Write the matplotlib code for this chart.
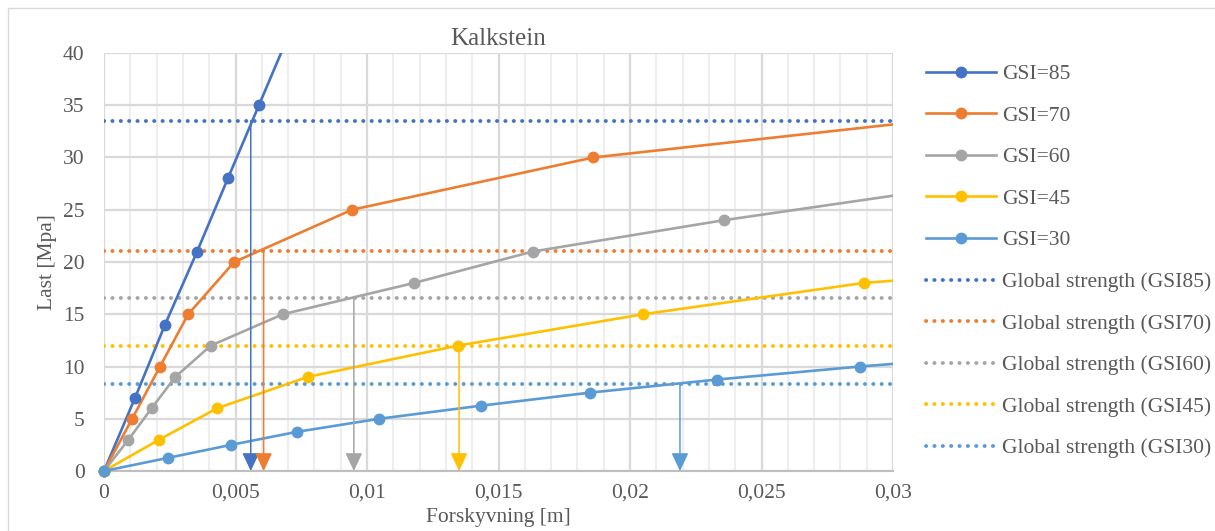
import matplotlib.pyplot as plt
from matplotlib.patches import Rectangle
from matplotlib.ticker import MultipleLocator, FuncFormatter
import numpy as np

plt.rcParams['font.family'] = ['Liberation Serif', 'DejaVu Serif']

# --- data (displacement [m], load [MPa]) ---
gsi85_x = [0, 0.00118, 0.00232, 0.00354, 0.00471, 0.00589, 0.00707]
gsi85_y = [0, 7, 14, 21, 28, 35, 42]

gsi70_x = [0, 0.00107, 0.00213, 0.0032, 0.00495, 0.00943, 0.0186, 0.0366]
gsi70_y = [0, 5, 10, 15, 20, 25, 30, 35]

gsi60_x = [0, 0.00093, 0.00181, 0.00271, 0.00406, 0.0068, 0.0118, 0.0163, 0.02357, 0.0318]
gsi60_y = [0, 3, 6, 9, 12, 15, 18, 21, 24, 27]

gsi45_x = [0, 0.0021, 0.0043, 0.00774, 0.01346, 0.0205, 0.0289, 0.0447]
gsi45_y = [0, 3, 6, 9, 12, 15, 18, 21]

gsi30_x = [0, 0.00242, 0.00483, 0.00734, 0.01047, 0.01433, 0.01848, 0.0233, 0.02875, 0.035]
gsi30_y = [0, 1.25, 2.5, 3.75, 5, 6.25, 7.5, 8.75, 10, 11.25]

global_strength = [33.52, 21.02, 16.53, 11.96, 8.36]
# displacement where each curve reaches its global strength (arrows)
failure_disp = [0.00558, 0.00607, 0.0095, 0.0135, 0.0219]

labels = ['GSI=85', 'GSI=70', 'GSI=60', 'GSI=45', 'GSI=30']
gs_labels = ['Global strength (GSI85)', 'Global strength (GSI70)', 'Global strength (GSI60)',
             'Global strength (GSI45)', 'Global strength (GSI30)']
colors = ['#4472C4', '#ED7D31', '#A5A5A5', '#FFC000', '#5B9BD5']

series = [(gsi85_x, gsi85_y), (gsi70_x, gsi70_y), (gsi60_x, gsi60_y),
          (gsi45_x, gsi45_y), (gsi30_x, gsi30_y)]

txt = '#595959'
fs = 15.5

fig = plt.figure(figsize=(12.15, 5.31), dpi=100)
ax = fig.add_axes([104 / 1215, 60 / 531, (893 - 104) / 1215, (471 - 53) / 531])

xmax, ymax = 0.03, 40
ax.set_xlim(0, xmax)
ax.set_ylim(0, ymax)

handles = []
for (x, y), c, lab in zip(series, colors, labels):
    x = np.array(x)
    y = np.array(y)
    h, = ax.plot(x, y, color=c, lw=1.9, marker='o', ms=7.5, label=lab, zorder=4)
    h.set_markevery([])
    # markers inside the plot area, not clipped at the edges
    m = (x <= xmax) & (y <= ymax)
    ax.plot(x[m], y[m], ls='none', marker='o', ms=7.5, color=c, clip_on=False, zorder=5)
    handles.append(h)

gs_handles = []
for s, c, lab in zip(global_strength, colors, gs_labels):
    h = ax.axhline(s, color=c, lw=2.8, ls=(0, (0.05, 2.1)), dash_capstyle='round',
                   label=lab, zorder=3)
    gs_handles.append(h)

# arrows from the global strength level down to the x-axis
for xf, s, c in zip(failure_disp, global_strength, colors):
    ax.annotate('', xy=(xf, 0), xytext=(xf, s),
                arrowprops=dict(arrowstyle='-|>,head_length=1.1,head_width=0.52',
                                color=c, lw=1.1, shrinkA=0, shrinkB=0),
                zorder=6, annotation_clip=False)

# grid
ax.xaxis.set_major_locator(MultipleLocator(0.005))
ax.xaxis.set_minor_locator(MultipleLocator(0.001))
ax.yaxis.set_major_locator(MultipleLocator(5))
ax.grid(which='major', color='#D9D9D9', lw=1.6, zorder=0)
ax.grid(which='minor', axis='x', color='#EEEEEE', lw=1.5, zorder=0)
ax.set_axisbelow(True)
for sp in ['left', 'right', 'top']:
    ax.spines[sp].set_visible(False)
ax.spines['bottom'].set_color('#BFBFBF')
ax.spines['bottom'].set_linewidth(1.5)

ax.xaxis.set_major_formatter(FuncFormatter(lambda v, p: f'{v:g}'.replace('.', ',')))
ax.tick_params(which='both', length=0, labelsize=fs, labelcolor=txt)
ax.tick_params(axis='x', pad=9)
ax.tick_params(axis='y', pad=14)

ax.set_title('Kalkstein', fontsize=18, color=txt, pad=6)
ax.set_xlabel('Forskyvning [m]', fontsize=fs, color=txt, labelpad=4)
ax.set_ylabel('Last [Mpa]', fontsize=fs, color=txt, labelpad=4)

leg = fig.legend(handles=handles + gs_handles, loc='upper left',
                 bbox_to_anchor=(926 / 1215, 467 / 531), frameon=False,
                 fontsize=fs, handlelength=3.25, handletextpad=0.3,
                 labelspacing=1.0, borderpad=0, borderaxespad=0)
for t in leg.get_texts():
    t.set_color(txt)
for h in leg.legend_handles[:5]:
    h.set_markevery([1])

# outer chart border
fig.patches.append(Rectangle((8 / 1215, -0.05), 1.2, 523.5 / 531 + 0.05,
                             transform=fig.transFigure, fill=False,
                             edgecolor='#D9D9D9', lw=1))

fig.savefig('out.png', dpi=100)
